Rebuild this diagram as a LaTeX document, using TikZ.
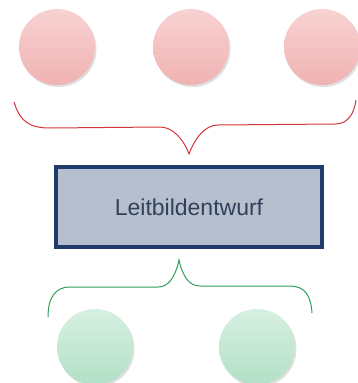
\documentclass[tikz,border=0pt]{standalone}
\usepackage{fontspec}
\setmainfont{Liberation Sans}
\usetikzlibrary{shadows}
\definecolor{redfill}{HTML}{F0B2B2}
\definecolor{redlight}{HTML}{F8D2D2}
\definecolor{greenfill}{HTML}{B2E0C6}
\definecolor{greenlight}{HTML}{D6F0E1}
\definecolor{redline}{HTML}{D2353A}
\definecolor{greenline}{HTML}{2E9E5E}
\definecolor{boxborder}{HTML}{1F3C6B}
\definecolor{boxfill}{HTML}{B5BFCE}
\definecolor{boxtext}{HTML}{33405A}
\tikzset{
  ball/.style={circle, minimum size=76pt, inner sep=0pt, shading angle=135,
    drop shadow={shadow xshift=1.5pt, shadow yshift=-2pt, fill=black!25, opacity=0.5}},
  redball/.style={ball, top color=redlight, bottom color=redfill},
  greenball/.style={ball, top color=greenlight, bottom color=greenfill},
  mainbox/.style={draw=boxborder, line width=4.5pt, fill=boxfill, minimum width=266pt,
    minimum height=80pt, inner sep=0pt, text=boxtext, font=\fontsize{23}{26}\selectfont},
  redbrace/.style={draw=redline, line width=1pt},
  greenbrace/.style={draw=greenline, line width=1pt}
}
\begin{document}
\begin{tikzpicture}[x=1pt,y=-1pt]
\useasboundingbox (0,0) rectangle (357,383);
\node[redball] (r1) at (57,47) {};
\node[redball] (r2) at (191,47) {};
\node[redball] (r3) at (322,47) {};
\node[mainbox] (box) at (189,207) {Leitbildentwurf};
\node[greenball] (g1) at (95,347) {};
\node[greenball] (g2) at (257,347) {};
% red brace
\coordinate (rtip) at (189,154);
\path[redbrace] (14,102) .. controls (20,122) and (30,128) .. (50,128)
  -- (160,127) .. controls (172,127) and (183,138) .. (rtip)
  .. controls (195,138) and (205,125) .. (218,125)
  -- (335,124) .. controls (348,124) and (354,114) .. (356,100);
% green brace
\coordinate (gtip) at (179,260);
\path[greenbrace] (48,317) .. controls (48,298) and (55,287) .. (70,287)
  -- (158,287) .. controls (168,287) and (175,278) .. (gtip)
  .. controls (183,278) and (190,286) .. (200,286)
  -- (290,286) .. controls (305,286) and (311,296) .. (312,313);
\end{tikzpicture}
\end{document}
